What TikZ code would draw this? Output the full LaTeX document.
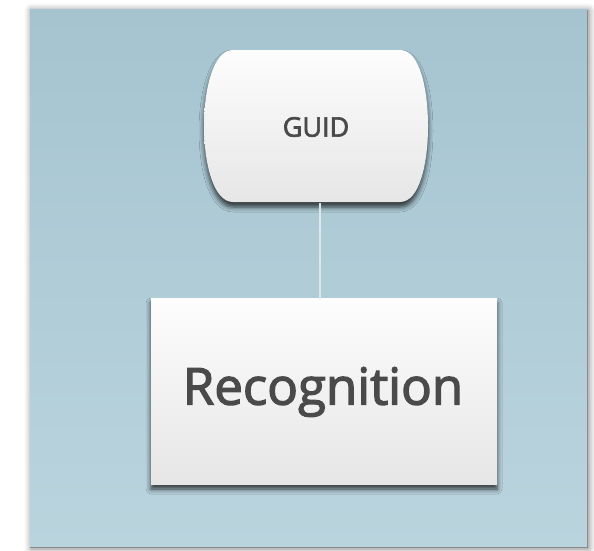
\documentclass[tikz,border=0pt]{standalone}
\usepackage{fontspec}
\setmainfont[FakeBold=2.5]{Open Sans}
\usetikzlibrary{shadows.blur}
\definecolor{paneltop}{HTML}{A5C4D0}
\definecolor{panelbot}{HTML}{BAD4DE}
\definecolor{txt}{HTML}{4A4A4A}
\definecolor{boxtop}{HTML}{FDFDFD}
\definecolor{boxbot}{HTML}{E6E6E6}
\definecolor{linkc}{HTML}{DCE8EC}
\tikzset{
  panel/.style={top color=paneltop, bottom color=panelbot, draw=none,
    blur shadow={shadow xshift=1.5pt, shadow yshift=-1.5pt, shadow blur radius=7pt, shadow opacity=55}},
  boxshade/.style={top color=boxtop, bottom color=boxbot, draw=none,
    blur shadow={shadow xshift=0pt, shadow yshift=-5pt, shadow blur radius=5pt, shadow opacity=75}},
  label/.style={text=txt, inner sep=0pt},
  link/.style={draw=linkc, line width=1.6pt},
}
\begin{document}
\begin{tikzpicture}[x=1pt,y=-1pt]
\useasboundingbox (0,0) rectangle (594,550);
% panel
\path[panel] (30,9) rectangle (587,547);
\draw[black!45, line width=1pt] (587,9.5) -- (587,547) -- (30,547);
% GUID shape
\path[boxshade] (233,50) -- (400,50)
  .. controls (420,50) and (428,90) .. (428,126)
  .. controls (428,162) and (420,202) .. (400,202)
  -- (233,202)
  .. controls (213,202) and (204,162) .. (204,126)
  .. controls (204,90) and (213,50) .. (233,50) -- cycle;
\node[label, minimum width=224pt, minimum height=152pt, font=\fontsize{27}{32}\selectfont] (guid) at (316,127) {GUID};
% Recognition box
\path[boxshade] (151,298) rectangle (497,484);
\node[label, minimum width=346pt, minimum height=186pt, font=\fontsize{51}{60}\selectfont] (rec) at (323,392) {Recognition};
% connector
\draw[link] (guid.south -| 320,0) -- (rec.north -| 320,0);
\end{tikzpicture}
\end{document}
